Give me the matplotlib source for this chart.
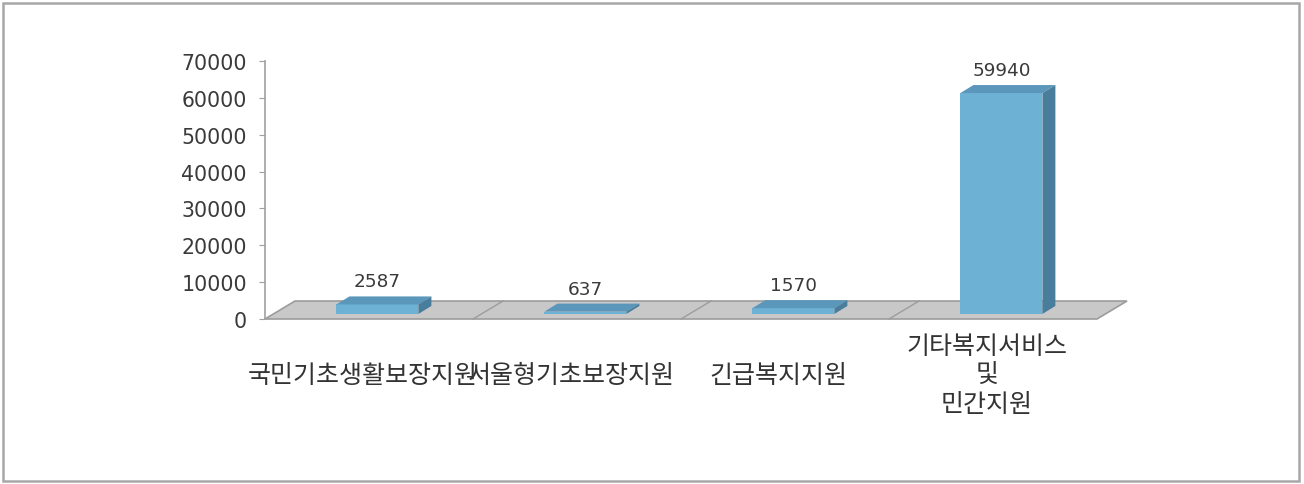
import matplotlib
matplotlib.use('Agg')
import matplotlib.pyplot as plt
from matplotlib.patches import Polygon, Rectangle

plt.rcParams['font.family'] = ['Noto Sans CJK KR', 'DejaVu Sans']

categories = ['국민기초생활보장지원', '서울형기초보장지원', '긴급복지지원', '기타복지서비스\n및\n민간지원']
values = [2587, 637, 1570, 59940]
yticks = [0, 10000, 20000, 30000, 40000, 50000, 60000, 70000]

W, H = 1304, 485
fig = plt.figure(figsize=(W/100, H/100), dpi=100)

# outer frame
fig.patches.append(Rectangle((3/W, 3/H), 1296/W, 478/H, transform=fig.transFigure,
                             fill=False, edgecolor='#a8a8a8', linewidth=1.8))

# axes in pixel box: x 265..1097, y 62..320 (from top)
ax = fig.add_axes([265/W, (H-320)/H, 832/W, 258/H])
ax.set_xlim(-0.5, 3.5)
ax.set_ylim(0, 70000)

# pixel -> data conversion
ux = 4 / 832.0
uy = 70000 / 258.0
def px(dx, dy):
    return dx*ux, dy*uy

n = len(categories)
fdx, fdy = px(30, 18)      # floor depth
f = 0.28                   # bar position inside floor depth
bdx, bdy = px(13, 8)       # bar depth
bw = 82 * ux               # bar width

# floor
floor = Polygon([(-0.5, 0), (n-0.5, 0), (n-0.5+fdx, fdy), (-0.5+fdx, fdy)],
                closed=True, facecolor='#c8c8c8', edgecolor='#9c9c9c', lw=1.2,
                clip_on=False, zorder=1)
ax.add_patch(floor)
for i in range(1, n):
    ax.plot([i-0.5, i-0.5+fdx], [0, fdy], color='#9c9c9c', lw=1, clip_on=False, zorder=2)

# bars
front_c = '#6db1d4'
top_c = '#5a97bb'
side_c = '#487d9c'
for i, v in enumerate(values):
    x0 = i - bw/2 + f*fdx
    y0 = f*fdy
    x1 = x0 + bw
    y1 = y0 + v
    ax.add_patch(Polygon([(x0, y0), (x1, y0), (x1, y1), (x0, y1)], closed=True,
                         facecolor=front_c, edgecolor='none', clip_on=False, zorder=3))
    ax.add_patch(Polygon([(x0, y1), (x1, y1), (x1+bdx, y1+bdy), (x0+bdx, y1+bdy)], closed=True,
                         facecolor=top_c, edgecolor='none', clip_on=False, zorder=3))
    ax.add_patch(Polygon([(x1, y0), (x1+bdx, y0+bdy), (x1+bdx, y1+bdy), (x1, y1)], closed=True,
                         facecolor=side_c, edgecolor='none', clip_on=False, zorder=3))
    ax.text(i + f*fdx, y1 + bdy + 6*uy, str(v), ha='center', va='bottom',
            fontsize=13.3, family='DejaVu Sans', color='#3a3a3a', zorder=4)

# category labels
for i, c in enumerate(categories):
    ax.text(i - 0.03, -56*uy, c, ha='center', va='center', fontsize=18,
            color='#333333', linespacing=1.15, multialignment='center')

ax.set_yticks(yticks)
ax.set_yticklabels([str(t) for t in yticks], fontsize=14.8, family='DejaVu Sans', color='#3a3a3a')
ax.set_xticks([])
for s in ['top', 'right', 'bottom']:
    ax.spines[s].set_visible(False)
ax.spines['left'].set_color('#a0a0a0')
ax.spines['left'].set_linewidth(1.2)
ax.tick_params(axis='y', direction='out', length=4, color='#a0a0a0', pad=9)
ax.patch.set_visible(False)

fig.savefig('out.png', dpi=100)
